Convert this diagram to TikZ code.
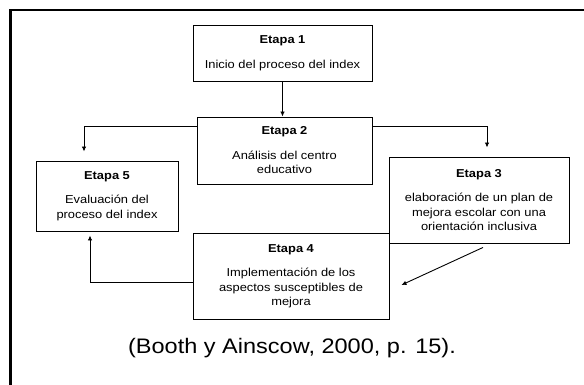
\documentclass[tikz,border=0pt]{standalone}
\usepackage{fontspec}
\setmainfont{Liberation Sans}[FakeStretch=1.12]
\usetikzlibrary{positioning}
\usetikzlibrary{arrows.meta}

\begin{document}
\begin{tikzpicture}[x=1pt, y=-1pt]

 \tikzset{etapa/.style={
 		draw,
 		line width=0.9pt,
 		align=center,
 		inner sep=0pt,
 		font=\fontsize{11.5}{14.5}\selectfont
 	},
 	flecha/.style={
 		line width=0.9pt,
 		-{Latex[length=5pt, width=4.5pt]}
 	}
 }
 \useasboundingbox (0,0) rectangle (584,385);
 % marco
 \draw[line width=1.2pt] (9,10) -- (584,10);
 \draw[line width=3pt] (10,9.4) -- (10,385);
 % etapas
 \node[etapa, minimum width=179pt, minimum height=56pt] (e1) at (282.5,53)
 	{\textbf{Etapa 1}\\[10pt] Inicio del proceso del index};
 \node[etapa, minimum width=175pt, minimum height=67pt] (e2) at (284.5,150.5)
 	{\textbf{Etapa 2}\\[10pt] Análisis del centro\\ educativo};
 \node[etapa, minimum width=142pt, minimum height=70pt] (e5) at (107,196)
 	{\textbf{Etapa 5}\\[10pt] Evaluación del\\ proceso del index};
 \node[etapa, minimum width=180pt, minimum height=86pt] (e3) at (479,200)
 	{\textbf{Etapa 3}\\[10pt] elaboración de un plan de\\ mejora escolar con una\\ orientación inclusiva};
 \node[etapa, minimum width=196pt, minimum height=86pt] (e4) at (291,276)
 	{\textbf{Etapa 4}\\[10pt] Implementación de los\\ aspectos susceptibles de\\ mejora};
 % extremos libres
 \coordinate (a5) at ([xshift=-23pt, yshift=9pt]e5.north);
 \coordinate (a3) at ([xshift=8pt, yshift=9pt]e3.north);
 \coordinate (d3) at ([shift={(4pt,-4pt)}]e3.south);
 \coordinate (d4) at ([shift={(12pt,-9pt)}]e4.east);
 % conectores
 \draw[flecha] (e1.south) -- (e1.south |- e2.north);
 \draw[flecha] ([yshift=-10pt]e2.north west) -| (a5);
 \draw[flecha] ([yshift=-10pt]e2.north east) -| (a3);
 \draw[flecha] (d3) -- (d4);
 \draw[flecha] ([yshift=-6pt]e4.west) -| ([xshift=-17pt, yshift=-4pt]e5.south);
 % fuente
 \node[font=\fontsize{21}{25}\selectfont] (fuente) at (292,348)
 	{(Booth y Ainscow, 2000, p. 15).};

\end{tikzpicture}
\end{document}
